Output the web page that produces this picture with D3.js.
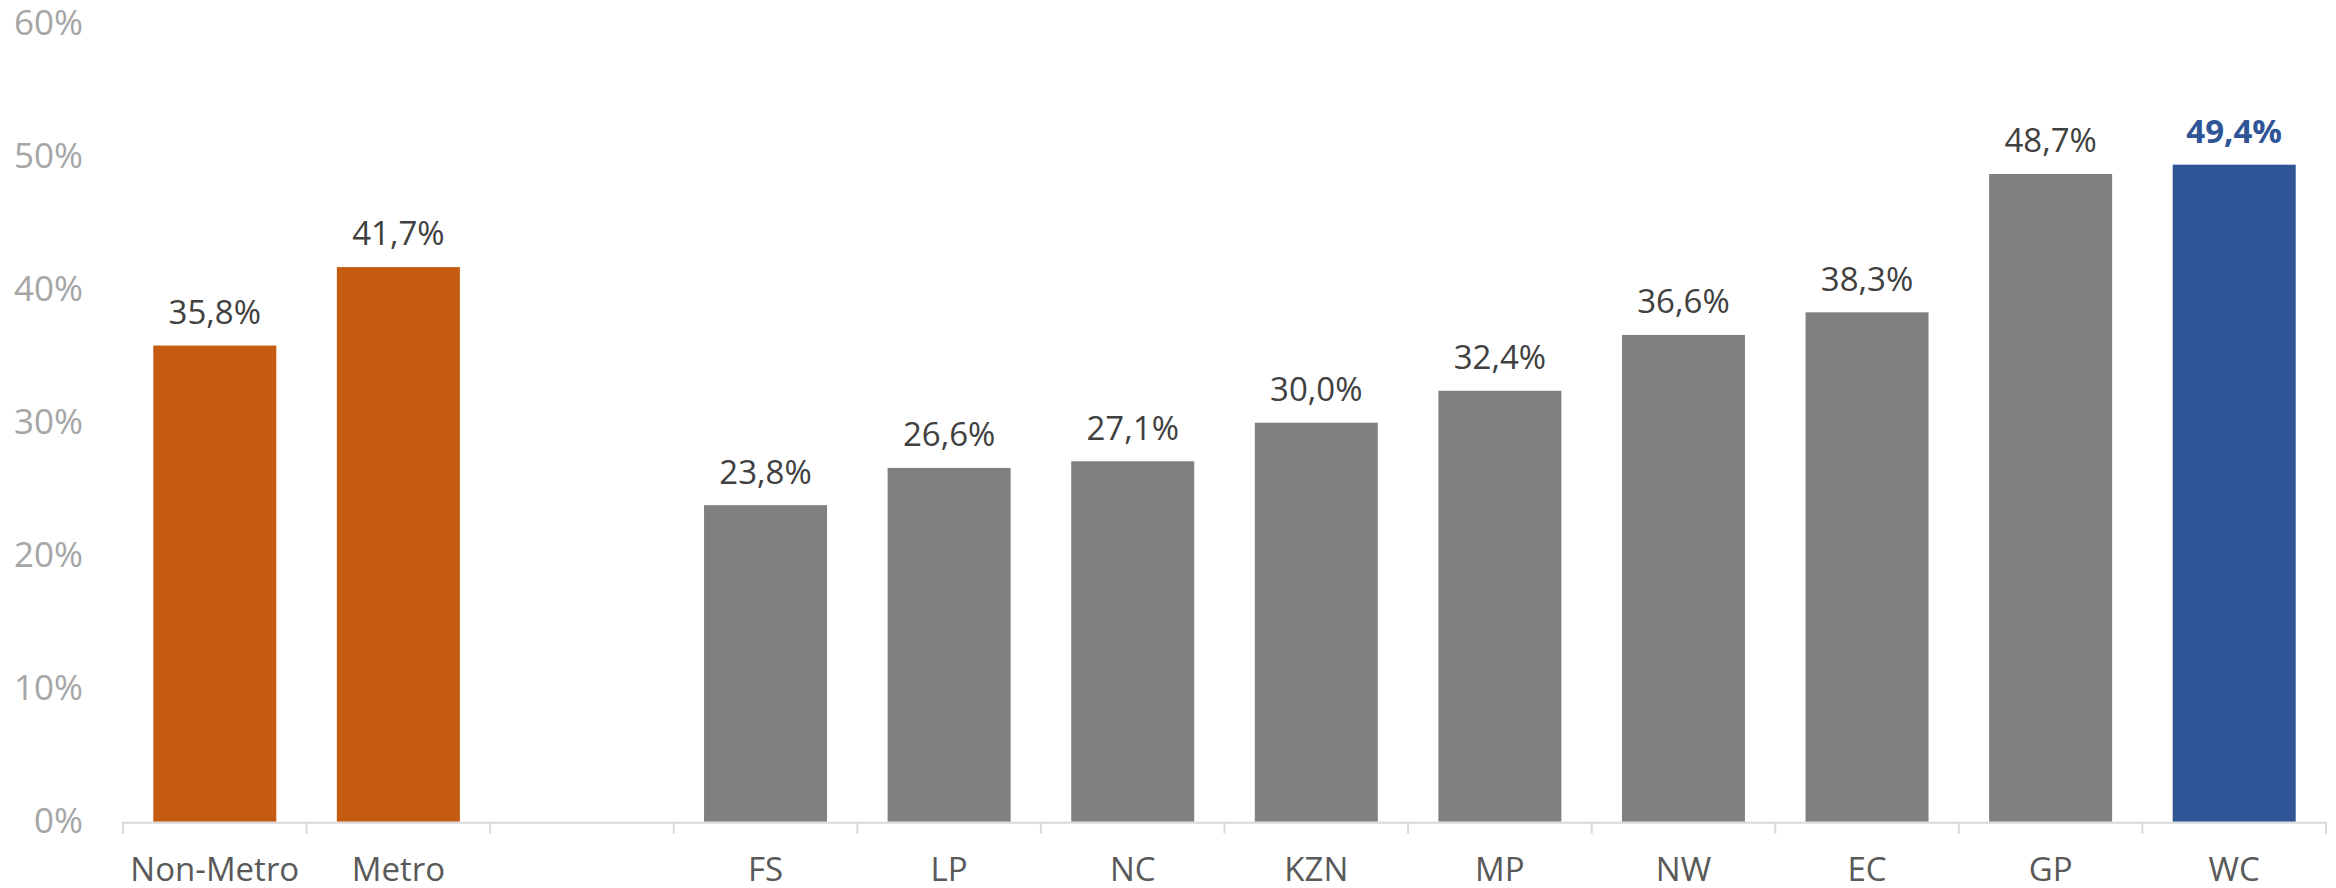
<!DOCTYPE html>
<html>
<head>
<meta charset="utf-8">
<script src="https://cdn.jsdelivr.net/npm/d3@7"></script>
<style>
  html, body { margin: 0; padding: 0; background: #fff; }
  svg { display: block; }
  text { font-family: "Open Sans", "Segoe UI", sans-serif; }
</style>
</head>
<body>
<svg id="chart" width="2336" height="888"></svg>
<script>
// ---- data ----
const categories = ["Non-Metro", "Metro", "", "FS", "LP", "NC", "KZN", "MP", "NW", "EC", "GP", "WC"];
const values     = [35.8, 41.7, null, 23.8, 26.6, 27.1, 30.0, 32.4, 36.6, 38.3, 48.7, 49.4];
const groups     = ["metro", "metro", "none", "prov", "prov", "prov", "prov", "prov", "prov", "prov", "prov", "best"];
const yTicks     = [0, 10, 20, 30, 40, 50, 60];

(function () {
// ---- layout ----
const mLeft = 123, mRight = 2326, mTop = 23.7, mBottom = 821.7;

const svg = d3.select("#chart");

const keys = categories.map((c, i) => "k" + i);
const x = d3.scaleBand().domain(keys).range([mLeft, mRight]).paddingInner(0.33).paddingOuter(0.165);
const y = d3.scaleLinear().domain([0, 60]).range([mBottom, mTop]);

const color = d3.scaleOrdinal().domain(["metro", "prov", "best"]).range(["#C55A11", "#808080", "#2F5597"]);
const labelColor = d3.scaleOrdinal().domain(["metro", "prov", "best"]).range(["#404040", "#404040", "#2F5597"]);

const fmt = v => d3.format(".1f")(v).replace(".", ",") + "%";

const data = categories.map((c, i) => ({ key: keys[i], cat: c, v: values[i], g: groups[i] }));

// y axis labels
const yAxis = d3.axisLeft(y).tickValues(yTicks).tickSize(0).tickPadding(40).tickFormat(d => d + "%");
const gy = svg.append("g").attr("transform", `translate(${mLeft},0)`).call(yAxis);
gy.select(".domain").remove();
gy.selectAll("text").attr("fill", "#A6A6A6").style("font-size", "35px").style("font-family", "'Open Sans', sans-serif");

// bars
const bars = data.filter(d => d.v != null);
svg.append("g").selectAll("rect").data(bars).join("rect")
  .attr("x", d => x(d.key))
  .attr("width", x.bandwidth())
  .attr("y", d => y(d.v))
  .attr("height", d => y(0) - y(d.v))
  .attr("fill", d => color(d.g));

// data labels
svg.append("g").selectAll("text").data(bars).join("text")
  .attr("x", d => x(d.key) + x.bandwidth() / 2)
  .attr("y", d => y(d.v) - 21.6)
  .attr("text-anchor", "middle")
  .attr("fill", d => labelColor(d.g))
  .style("font-size", "33px")
  .style("font-weight", d => d.g === "best" ? "700" : "400")
  .text(d => fmt(d.v));

// x axis
const xAxis = d3.axisBottom(x).tickSize(0).tickPadding(36).tickFormat((k, i) => categories[i]);
const gx = svg.append("g").attr("transform", `translate(0,${mBottom})`).call(xAxis);
gx.select(".domain").remove();
gx.selectAll("text").attr("fill", "#595959").style("font-size", "33px").style("font-family", "'Open Sans', sans-serif");

// axis line and boundary ticks
const step = x.step();
const edges = keys.map(k => x(k) - step * 0.165).concat([mRight]);
const gl = svg.append("g");
gl.append("line").attr("x1", mLeft).attr("x2", mRight).attr("y1", mBottom + 1).attr("y2", mBottom + 1)
  .attr("stroke", "#D9D9D9").attr("stroke-width", 2);
gl.selectAll("line.t").data(edges).join("line").attr("class", "t")
  .attr("x1", d => d).attr("x2", d => d)
  .attr("y1", mBottom).attr("y2", mBottom + 12)
  .attr("stroke", "#D9D9D9").attr("stroke-width", 2);
})();
</script>
</body>
</html>
